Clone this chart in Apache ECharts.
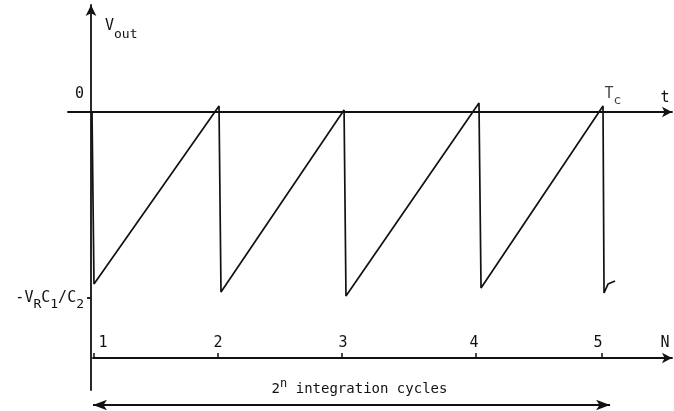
<!DOCTYPE html>
<html>
<head>
<meta charset="utf-8">
<script src="https://cdn.jsdelivr.net/npm/echarts@6/dist/echarts.min.js"></script>
<style>
  html, body { margin: 0; padding: 0; background: #ffffff; }
  #chart { width: 674px; height: 411px; }
</style>
</head>
<body>
<div id="chart"></div>
<script>
// Integrator output waveform: time measured in integration cycles,
// output measured in units of V_R·C1/C2 (negative below the t axis).
const sawT = [0.0078, 0.0234, 1.0, 1.0156, 1.977, 1.992, 3.031, 3.047, 4.0, 4.008, 4.039, 4.094];
const sawV = [0, -0.925, 0.032, -0.968, 0.011, -0.989, 0.048, -0.946, 0.032, -0.973, -0.925, -0.909];

// Levels marked on the V_out axis
const refLevels = [0, -1];

// Cycle counter axis (N)
const cycleTicks = [0.0234, 0.992, 1.961, 3.005, 3.992];
const cycleLabelPos = [0.094, 0.992, 1.969, 2.992, 3.961];
const cycleLabels = ['1', '2', '3', '4', '5'];

// End of the last cycle (T_c)
const tcPoint = [4.0, 0.032];

// Span of 2^n integration cycles
const spanStart = 0.0157;
const spanEnd = 4.055;
const spanLevel = -47;

const FONT = 'DejaVu Sans Mono';
const INK = '#111111';

const mainText = { fontFamily: FONT, fontSize: 15, color: INK };
const subText = { fontFamily: FONT, fontSize: 13, color: INK, padding: [14, 0, 0, 0] };

const chart = echarts.init(document.getElementById('chart'), null, { renderer: 'canvas' });

const option = {
  animation: false,
  backgroundColor: '#ffffff',
  grid: [
    { left: 68, right: 2, top: 5, bottom: 21, outerBoundsMode: 'none', containLabel: false },
    { left: 93, right: 2, top: 330, bottom: 0, outerBoundsMode: 'none', containLabel: false }
  ],
  xAxis: [
    {
      gridIndex: 0,
      type: 'value',
      min: -0.1797,
      max: 4.539,
      axisLine: {
        onZero: true,
        symbol: ['none', 'arrow'],
        symbolSize: [8, 10],
        lineStyle: { color: INK, width: 1.8 }
      },
      axisTick: { show: false },
      axisLabel: { show: false },
      splitLine: { show: false },
      name: 't',
      nameLocation: 'end',
      nameGap: -7,
      nameTextStyle: Object.assign({}, mainText, {
        align: 'center', verticalAlign: 'bottom', padding: [0, 0, 6, 0]
      })
    },
    {
      // N axis, lifted from the bottom of its grid to the level of cycle count
      gridIndex: 1,
      type: 'value',
      position: 'bottom',
      offset: -53,
      min: 0.0157,
      max: 4.539,
      axisLine: {
        onZero: false,
        symbol: ['none', 'arrow'],
        symbolSize: [8, 10],
        lineStyle: { color: INK, width: 1.8 }
      },
      axisTick: {
        inside: true,
        length: 5,
        customValues: cycleTicks,
        lineStyle: { color: INK, width: 1.5 }
      },
      axisLabel: Object.assign({}, mainText, {
        inside: true,
        margin: 7,
        customValues: cycleLabelPos,
        formatter: function (v) {
          const i = cycleLabelPos.indexOf(v);
          return i >= 0 ? cycleLabels[i] : '';
        }
      }),
      splitLine: { show: false },
      name: 'N',
      nameLocation: 'end',
      nameGap: -7,
      nameTextStyle: Object.assign({}, mainText, {
        align: 'center', verticalAlign: 'bottom', padding: [0, 0, 7, 0]
      })
    }
  ],
  yAxis: [
    {
      // V_out axis, moved in from the grid edge to t = 0
      gridIndex: 0,
      type: 'value',
      position: 'left',
      offset: -23,
      min: -1.4946,
      max: 0.5753,
      axisLine: {
        onZero: false,
        symbol: ['none', 'arrow'],
        symbolSize: [8, 11],
        lineStyle: { color: INK, width: 1.8 }
      },
      axisTick: {
        length: 4,
        customValues: [-1],
        lineStyle: { color: INK, width: 1.8 }
      },
      axisLabel: {
        margin: 7,
        customValues: refLevels,
        formatter: function (v) {
          return v === 0 ? '{z|0}' : '{n|-V}{s|R}{n|C}{s|1}{n|/C}{s|2}';
        },
        rich: {
          z: Object.assign({}, mainText, { padding: [0, 0, 36, 0] }),
          n: mainText,
          s: subText
        }
      },
      splitLine: { show: false },
      name: '{n|V}{s|out}',
      nameLocation: 'end',
      nameGap: -21,
      nameTextStyle: {
        align: 'left',
        verticalAlign: 'middle',
        padding: [0, 0, 0, 14],
        rich: {
          n: mainText,
          s: Object.assign({}, subText, { padding: [18, 0, 0, 0] })
        }
      }
    },
    {
      gridIndex: 1,
      type: 'value',
      min: -53,
      max: 28,
      show: false
    }
  ],
  series: [
    {
      name: 'Vout',
      type: 'line',
      xAxisIndex: 0,
      yAxisIndex: 0,
      data: sawT.map(function (t, i) { return [t, sawV[i]]; }),
      showSymbol: false,
      clip: false,
      silent: true,
      lineStyle: { color: INK, width: 1.7 }
    },
    {
      name: 'Tc',
      type: 'scatter',
      xAxisIndex: 0,
      yAxisIndex: 0,
      data: [tcPoint],
      symbolSize: 1,
      silent: true,
      itemStyle: { color: 'rgba(0,0,0,0)' },
      label: {
        show: true,
        position: 'right',
        distance: 1,
        offset: [0, -12],
        formatter: '{n|T}{s|c}',
        rich: { n: mainText, s: subText }
      }
    },
    {
      name: 'span',
      type: 'line',
      xAxisIndex: 1,
      yAxisIndex: 1,
      data: [],
      silent: true,
      markLine: {
        silent: true,
        symbol: ['arrow', 'arrow'],
        symbolSize: [8, 14],
        lineStyle: { color: INK, width: 2, type: 'solid' },
        label: {
          show: true,
          position: 'middle',
          distance: 5,
          offset: [8, 0],
          formatter: '{a|2}{p|n}{a| integration cycles}',
          rich: {
            a: { fontFamily: FONT, fontSize: 14, color: INK },
            p: { fontFamily: FONT, fontSize: 12, color: INK, padding: [0, 0, 10, 0] }
          }
        },
        data: [[{ coord: [spanStart, spanLevel] }, { coord: [spanEnd, spanLevel] }]]
      }
    }
  ]
};

chart.setOption(option);
</script>
</body>
</html>
